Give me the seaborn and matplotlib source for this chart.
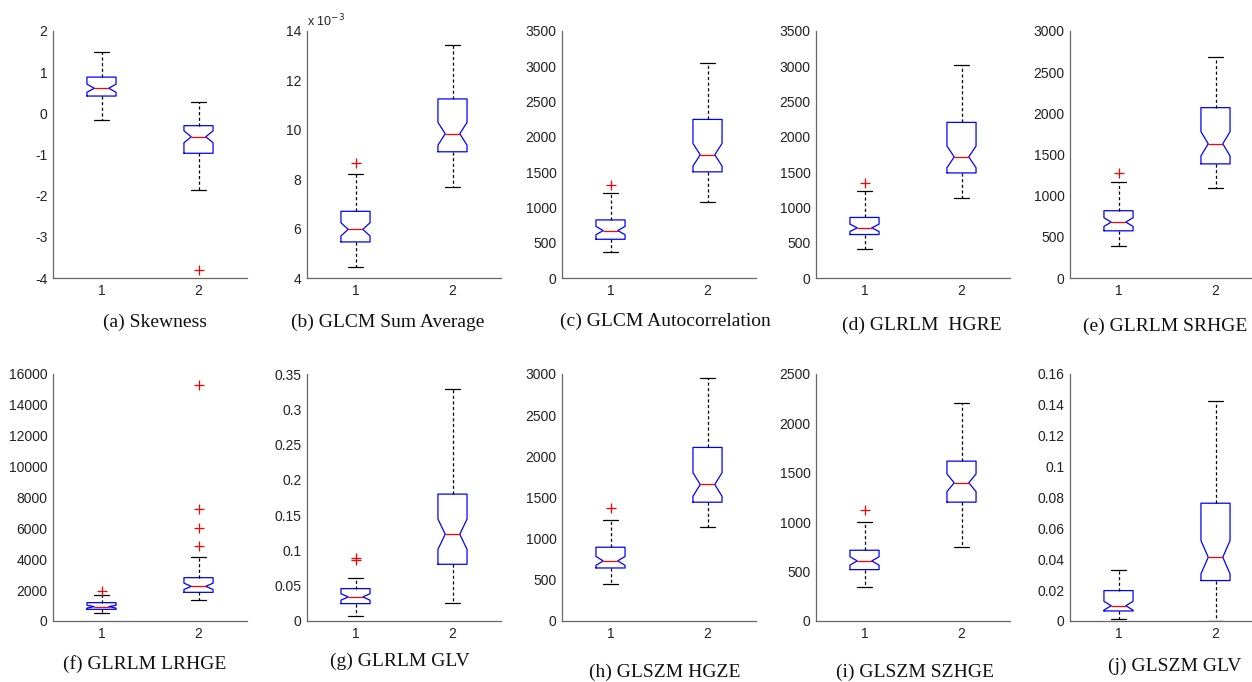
import matplotlib
matplotlib.use("Agg")
import matplotlib.pyplot as plt
import matplotlib.ticker as mticker
import numpy as np
import pandas as pd
import seaborn as sns

# five-number summaries: [lower whisker, q1, median, q3, upper whisker]
groups = ["1", "2"]

skew_g1 = [-0.16, 0.42, 0.61, 0.88, 1.48]
skew_g2 = [-1.87, -0.97, -0.57, -0.30, 0.28]
skew_out = [[], [-3.81]]

sumavg_g1 = [4.43e-3, 5.46e-3, 5.97e-3, 6.70e-3, 8.22e-3]
sumavg_g2 = [7.68e-3, 9.11e-3, 9.84e-3, 11.25e-3, 13.42e-3]
sumavg_out = [[8.65e-3], []]

autoc_g1 = [369, 549, 672, 823, 1211]
autoc_g2 = [1083, 1504, 1746, 2247, 3051]
autoc_out = [[1315], []]

hgre_g1 = [408, 616, 711, 858, 1228]
hgre_g2 = [1133, 1489, 1716, 2205, 3020]
hgre_out = [[1351], []]

srhge_g1 = [386, 573, 679, 817, 1167]
srhge_g2 = [1093, 1386, 1630, 2069, 2683]
srhge_out = [[1276], []]

lrhge_g1 = [540, 756, 929, 1188, 1684]
lrhge_g2 = [1339, 1857, 2246, 2807, 4168]
lrhge_out = [[1965], [4837, 6003, 7277, 15266]]

rlm_glv_g1 = [0.0076, 0.0246, 0.0341, 0.0459, 0.0610]
rlm_glv_g2 = [0.0251, 0.0804, 0.1230, 0.1798, 0.3283]
rlm_glv_out = [[0.0861, 0.0894], []]

hgze_g1 = [446, 644, 730, 896, 1232]
hgze_g2 = [1139, 1443, 1658, 2108, 2947]
hgze_out = [[1378], []]

szhge_g1 = [341, 520, 608, 716, 1003]
szhge_g2 = [750, 1203, 1399, 1618, 2209]
szhge_out = [[1125], []]

szm_glv_g1 = [0.0013, 0.0065, 0.0099, 0.0197, 0.0333]
szm_glv_g2 = [0.0002, 0.0262, 0.0413, 0.0763, 0.1425]
szm_glv_out = [[], []]

titles = ["(a) Skewness", "(b) GLCM Sum Average", "(c) GLCM Autocorrelation",
          "(d) GLRLM  HGRE", "(e) GLRLM SRHGE", "(f) GLRLM LRHGE",
          "(g) GLRLM GLV", "(h) GLSZM HGZE", "(i) GLSZM SZHGE", "(j) GLSZM GLV"]

yticks = [np.arange(-4, 2.01, 1),
          np.arange(4e-3, 14.01e-3, 2e-3),
          np.arange(0, 3501, 500),
          np.arange(0, 3501, 500),
          np.arange(0, 3001, 500),
          np.arange(0, 16001, 2000),
          np.arange(0, 0.351, 0.05),
          np.arange(0, 3001, 500),
          np.arange(0, 2501, 500),
          np.arange(0, 0.161, 0.02)]

panels = [(skew_g1, skew_g2, skew_out), (sumavg_g1, sumavg_g2, sumavg_out),
          (autoc_g1, autoc_g2, autoc_out), (hgre_g1, hgre_g2, hgre_out),
          (srhge_g1, srhge_g2, srhge_out), (lrhge_g1, lrhge_g2, lrhge_out),
          (rlm_glv_g1, rlm_glv_g2, rlm_glv_out), (hgze_g1, hgze_g2, hgze_out),
          (szhge_g1, szhge_g2, szhge_out), (szm_glv_g1, szm_glv_g2, szm_glv_out)]

N_HALF = 13  # 4*13+1 = 53 samples per group -> notch width like the original


def box_frame(g1, g2):
    # sample whose quartiles / extremes are exactly the five-number summary
    rows = []
    for name, (lo, q1, med, q3, hi) in zip(groups, [g1, g2]):
        vals = [lo] + [q1] * (2 * N_HALF - 1) + [med] + [q3] * (2 * N_HALF - 1) + [hi]
        rows += [(name, v) for v in vals]
    return pd.DataFrame(rows, columns=["group", "value"])


def outlier_frame(out):
    rows = [(name, v) for name, vals in zip(groups, out) for v in vals]
    return pd.DataFrame(rows, columns=["group", "value"])


sns.set_style("white")
plt.rcParams["font.family"] = ["Liberation Sans", "DejaVu Sans"]
plt.rcParams["axes.unicode_minus"] = False

W, H = 1252, 682
fig = plt.figure(figsize=(W / 100, H / 100), dpi=100)

lefts = [53, 307, 562, 816, 1070]
bottoms = [278, 621]
ax_w, ax_h = 194, 247
cap_pos = [(155, 322), (388, 322), (665, 321), (922, 325), (1165, 326),
           (145, 664), (400, 661), (665, 672), (915, 672), (1175, 666)]

for i, (g1, g2, out) in enumerate(panels):
    r, c = divmod(i, 5)
    ax = fig.add_axes([lefts[c] / W, 1 - bottoms[r] / H, ax_w / W, ax_h / H])
    df = box_frame(g1, g2)
    sns.boxplot(data=df, x="group", y="value", order=groups, ax=ax,
                width=0.3, whis=(0, 100), notch=True, fill=False,
                color="blue", linewidth=0.9, showfliers=False,
                medianprops=dict(color="red"),
                whiskerprops=dict(color="black", linestyle=(0, (2.5, 2))),
                capprops=dict(color="black"))
    dfo = outlier_frame(out)
    if len(dfo):
        sns.stripplot(data=dfo, x="group", y="value", order=groups, ax=ax,
                      jitter=False, marker="+", color="red", size=7,
                      linewidth=0.9)
    ax.set_xlim(-0.5, 1.5)
    ax.set_yticks(yticks[i])
    ax.set_ylim(yticks[i][0], yticks[i][-1])
    if i == 1:
        fmt = mticker.ScalarFormatter(useMathText=False)
        fmt.set_powerlimits((-3, -3))
        ax.yaxis.set_major_formatter(fmt)
        ax.yaxis.get_offset_text().set_visible(False)
        ax.text(0.0, 1.005, "x 10$^{-3}$", transform=ax.transAxes,
                fontsize=9, color="#222222", va="bottom", ha="left")
    else:
        ax.yaxis.set_major_formatter(mticker.FormatStrFormatter("%g"))
    ax.set_xlabel("")
    ax.set_ylabel("")
    for s in ["top", "right"]:
        ax.spines[s].set_visible(False)
    for s in ["left", "bottom"]:
        ax.spines[s].set_color("#666666")
        ax.spines[s].set_linewidth(0.9)
    ax.tick_params(direction="in", length=3, width=0.8, color="#666666",
                   labelsize=10, labelcolor="#222222", pad=4)
    cx, cy = cap_pos[i]
    fig.text(cx / W, 1 - cy / H, titles[i], ha="center", va="center",
             fontsize=14, family="Liberation Serif", color="#111111")

fig.savefig("out.png", dpi=100)
